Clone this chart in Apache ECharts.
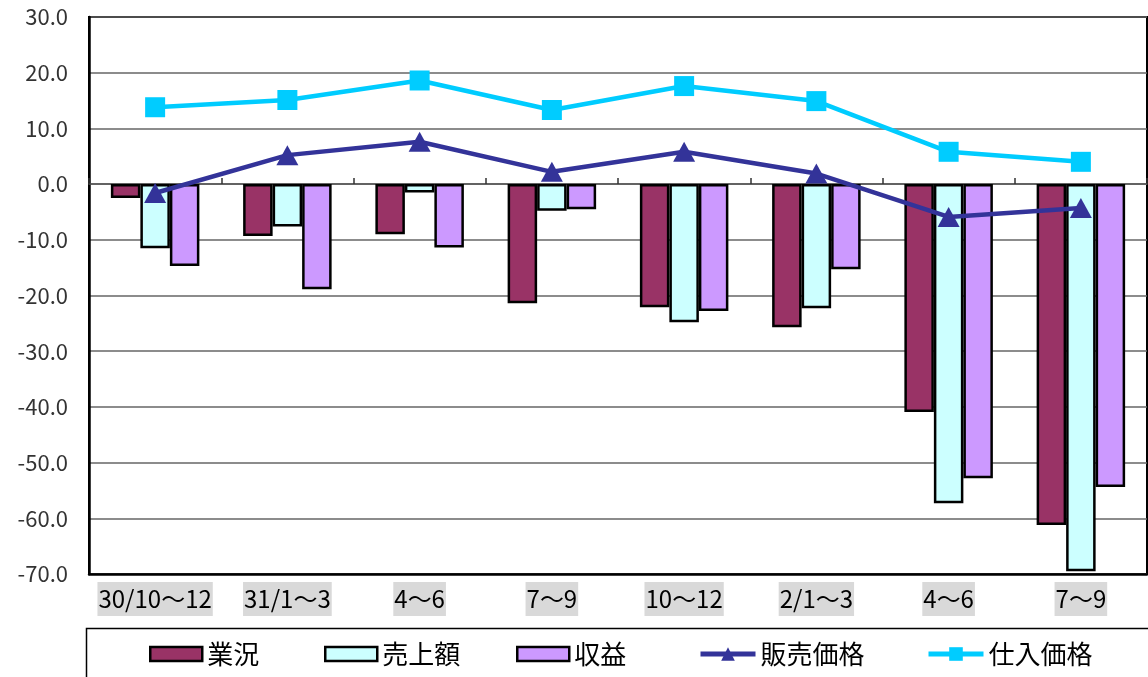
<!DOCTYPE html>
<html><head><meta charset="utf-8">
<script src="https://cdn.jsdelivr.net/npm/echarts@6/dist/echarts.min.js"></script>
<style>html,body{margin:0;padding:0;background:#fff}#c{width:1148px;height:677px}</style>
</head><body><div id="c"></div>
<script>
const categories = ['30/10～12','31/1～3','4～6','7～9','10～12','2/1～3','4～6','7～9'];
const gyokyo = [-2.5,-9.3,-9.0,-21.4,-22.1,-25.7,-40.9,-61.2];
const uriage = [-11.5,-7.6,-1.5,-4.8,-24.8,-22.3,-57.3,-69.5];
const shueki = [-14.7,-18.9,-11.4,-4.5,-22.8,-15.3,-52.8,-54.4];
const hanbai = [-1.6,5.2,7.6,2.2,5.8,1.9,-5.9,-4.3];
const shiire = [13.8,15.1,18.6,13.3,17.6,14.9,5.8,4.0];
const yMin = -70, yMax = 30, yStep = 10;

const font = '"Noto Sans CJK JP", sans-serif';
const chart = echarts.init(document.getElementById('c'));
const barStyle = c => ({color: c, borderColor: '#000', borderWidth: 2.5});
function leg(name, left, style, w, h){
  return {
    left: left, top: 641, itemWidth: w, itemHeight: h, padding: 0, itemGap: 6,
    data: [Object.assign({name: name}, style || {})],
    textStyle: {fontFamily: font, fontSize: 26, color: '#000'}
  };
}
chart.setOption({
  animation: false,
  grid: {left: 89, top: 17, right: 1, bottom: 103, show: true, borderColor: '#000', borderWidth: 2, backgroundColor: '#fff'},
  graphic: [{type: 'rect', shape: {x: 86.5, y: 628.5, width: 1100, height: 80}, style: {fill: 'none', stroke: '#000', lineWidth: 1.5}, z: -1}],
  legend: [
    leg('業況', 149, {icon: 'rect', itemStyle: barStyle('#993366')}, 52, 14),
    leg('売上額', 324, {icon: 'rect', itemStyle: barStyle('#CCFFFF')}, 52, 14),
    leg('収益', 516, {icon: 'rect', itemStyle: barStyle('#CC99FF')}, 52, 14),
    leg('販売価格', 698, {lineStyle: {width: 5, color: '#333399'}}, 55, 17),
    leg('仕入価格', 926, {lineStyle: {width: 5, color: '#00CCFF'}}, 55, 17)
  ],
  xAxis: [{
    type: 'category', data: categories, position: 'bottom',
    axisLine: {onZero: true, lineStyle: {color: '#555', width: 1.5}},
    axisTick: {show: true, inside: true, length: 6, lineStyle: {color: '#333', width: 1.5}},
    axisLabel: {show: false}, splitLine: {show: false}
  }, {
    type: 'category', data: categories, position: 'bottom',
    axisLine: {onZero: false, lineStyle: {color: '#000', width: 2.5}},
    axisTick: {show: false},
    axisLabel: {show: true, interval: 0, margin: 8, fontFamily: font, fontSize: 24, color: '#000',
      backgroundColor: '#d9d9d9', padding: [4, 1, 4, 1], lineHeight: 26}
  }],
  yAxis: {
    type: 'value', min: yMin, max: yMax, interval: yStep,
    axisLine: {show: true, lineStyle: {color: '#000', width: 2.5}},
    axisTick: {show: false},
    splitLine: {show: true, lineStyle: {color: '#666', width: 1.5}},
    axisLabel: {margin: 21, fontFamily: font, fontSize: 22, color: '#333', formatter: v => v.toFixed(1)}
  },
  series: [
    {name: '業況', type: 'bar', data: gyokyo, barWidth: 29.5, barGap: '0%', itemStyle: barStyle('#993366')},
    {name: '売上額', type: 'bar', data: uriage, barWidth: 29.5, barGap: '0%', itemStyle: barStyle('#CCFFFF')},
    {name: '収益', type: 'bar', data: shueki, barWidth: 29.5, barGap: '0%', itemStyle: barStyle('#CC99FF')},
    {name: '販売価格', type: 'line', data: hanbai, symbol: 'triangle', symbolSize: [22, 20],
      lineStyle: {color: '#333399', width: 4.5}, itemStyle: {color: '#333399'}, z: 5},
    {name: '仕入価格', type: 'line', data: shiire, symbol: 'rect', symbolSize: 20,
      lineStyle: {color: '#00CCFF', width: 4.5}, itemStyle: {color: '#00CCFF'}, z: 5}
  ]
});
</script></body></html>
